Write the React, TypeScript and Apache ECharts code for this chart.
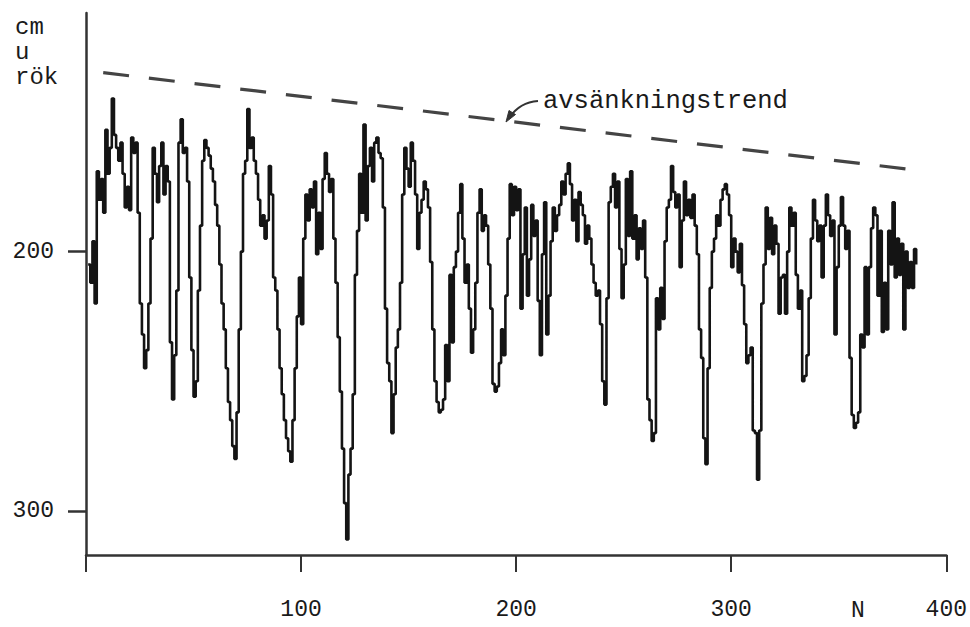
import React, { useEffect, useRef } from "react";
import * as echarts from "echarts";

// Water level (cm below reference) per observation N
const levels: number[] = [
  205, 212, 196, 220, 169, 180, 172, 185, 153, 170,
  160, 141, 155, 160, 165, 158, 170, 183, 175, 184,
  156, 162, 158, 185, 220, 232, 245, 238, 220, 195,
  160, 170, 181, 167, 158, 178, 167, 173, 235, 257,
  240, 215, 158, 149, 162, 160, 173, 210, 238, 256,
  250, 215, 190, 165, 157, 160, 163, 168, 173, 182,
  190, 205, 220, 230, 245, 258, 265, 275, 280, 262,
  230, 200, 170, 165, 145, 160, 156, 165, 170, 180,
  190, 186, 195, 188, 167, 178, 210, 215, 230, 245,
  255, 265, 272, 277, 281, 265, 245, 225, 210, 228,
  195, 178, 188, 176, 183, 173, 201, 185, 199, 172,
  162, 170, 177, 172, 195, 212, 233, 254, 276, 297,
  311, 286, 276, 255, 209, 192, 170, 185, 151, 188,
  167, 160, 173, 158, 156, 162, 164, 183, 222, 243,
  250, 270, 255, 237, 230, 212, 178, 160, 168, 175,
  158, 165, 178, 199, 185, 180, 173, 176, 183, 204,
  230, 250, 258, 262, 261, 257, 236, 250, 209, 235,
  206, 200, 185, 174, 195, 212, 205, 222, 239, 230,
  212, 185, 176, 192, 186, 190, 205, 222, 251, 254,
  252, 243, 230, 240, 217, 195, 174, 186, 175, 184,
  176, 222, 201, 183, 217, 203, 182, 194, 188, 219,
  240, 201, 181, 232, 217, 196, 183, 192, 186, 182,
  173, 178, 170, 166, 174, 188, 180, 196, 177, 182,
  186, 197, 190, 195, 205, 212, 217, 215, 228, 250,
  259, 218, 181, 175, 170, 183, 173, 199, 218, 205,
  172, 194, 169, 195, 186, 203, 191, 199, 188, 210,
  257, 265, 273, 270, 218, 230, 214, 226, 196, 183,
  180, 167, 177, 183, 178, 206, 188, 173, 186, 180,
  187, 178, 190, 201, 230, 241, 272, 282, 245, 214,
  200, 195, 186, 190, 180, 176, 174, 178, 186, 206,
  195, 200, 208, 197, 213, 228, 243, 240, 237, 269,
  270, 288, 269, 220, 205, 183, 199, 187, 201, 190,
  197, 224, 210, 209, 224, 200, 183, 190, 185, 209,
  222, 215, 250, 248, 240, 218, 195, 180, 188, 196,
  190, 210, 190, 178, 186, 194, 188, 232, 206, 190,
  179, 190, 199, 192, 241, 263, 268, 266, 262, 232,
  237, 206, 232, 206, 191, 183, 186, 217, 192, 231,
  212, 230, 192, 205, 181, 210, 195, 209, 197, 230,
  200, 214, 204, 214, 199, 205,
];

// Lowering trend (dashed line): [N, cm]
const trendN: number[] = [8, 390];
const trendCm: number[] = [131, 169];

const xTicks: number[] = [0, 100, 200, 300, 400];
const yTicks: number[] = [200, 300];

const yUnitLines: string[] = ["cm", "u", "rök"];
const trendLabel = "avsänkningstrend";
const xName = "N";

const MONO = "'Liberation Mono', 'DejaVu Sans Mono', monospace";

export default function App() {
  const ref = useRef<HTMLDivElement>(null);

  useEffect(() => {
    if (!ref.current) return;
    const chart = echarts.init(ref.current, null, { renderer: "svg" });
    const seriesData = levels.map((v, i) => [i + 1, v]);
    const trendData = trendN.map((n, i) => [n, trendCm[i]]);

    chart.setOption({
      animation: false,
      backgroundColor: "#ffffff",
      grid: { left: 86, right: 21, top: 13, bottom: 72, containLabel: false },
      xAxis: {
        type: "value",
        min: 0,
        max: 400,
        interval: 100,
        splitLine: { show: false },
        axisLine: { show: true, lineStyle: { color: "#333", width: 2.5 } },
        axisTick: {
          show: true,
          inside: false,
          length: 17,
          lineStyle: { color: "#333", width: 2 },
          customValues: xTicks,
        },
        axisLabel: {
          show: true,
          margin: 43,
          color: "#1a1a1a",
          fontFamily: MONO,
          fontSize: 23,
          customValues: xTicks.filter((t) => t !== 0),
          formatter: (v: number) => (v === 0 ? "" : String(v)),
        },
      },
      yAxis: {
        type: "value",
        inverse: true,
        min: 108,
        max: 317,
        splitLine: { show: false },
        axisLine: { show: true, onZero: false, lineStyle: { color: "#333", width: 2.5 } },
        axisTick: {
          show: true,
          inside: false,
          length: 18,
          lineStyle: { color: "#333", width: 2.5 },
          customValues: yTicks,
        },
        axisLabel: {
          show: true,
          margin: 32,
          color: "#1a1a1a",
          fontFamily: MONO,
          fontSize: 23,
          customValues: yTicks,
        },
      },
      series: [
        {
          type: "line",
          step: "end",
          data: seriesData,
          showSymbol: false,
          symbol: "none",
          lineStyle: { color: "#141414", width: 2.6 },
          z: 3,
        },
        {
          type: "line",
          data: trendData,
          showSymbol: false,
          symbol: "none",
          lineStyle: { color: "#444", width: 3.2, type: [26, 20] },
          z: 2,
        },
      ],
      graphic: [
        {
          type: "text",
          left: 15,
          top: 15,
          style: {
            text: yUnitLines.join("\n"),
            font: `24px ${MONO}`,
            lineHeight: 25,
            fill: "#1a1a1a",
          },
        },
        {
          type: "text",
          left: 851,
          top: 599,
          style: { text: xName, font: `23px ${MONO}`, fill: "#1a1a1a" },
        },
        {
          type: "text",
          left: 543,
          top: 88,
          style: { text: trendLabel, font: `25.5px ${MONO}`, fill: "#1a1a1a" },
        },
        {
          type: "bezierCurve",
          shape: { x1: 538, y1: 101, cpx1: 520, cpy1: 102, x2: 509, y2: 118 },
          style: { stroke: "#333", lineWidth: 2.2, fill: "none" },
        },
        {
          type: "polygon",
          shape: { points: [[506, 122], [515.5, 114.5], [509, 110.5]] },
          style: { fill: "#333", stroke: "#333", lineWidth: 1 },
        },
      ],
    });

    return () => chart.dispose();
  }, []);

  return (
    <div
      ref={ref}
      style={{ position: "fixed", left: 0, top: 0, width: 970, height: 627, background: "#fff" }}
    />
  );
}
